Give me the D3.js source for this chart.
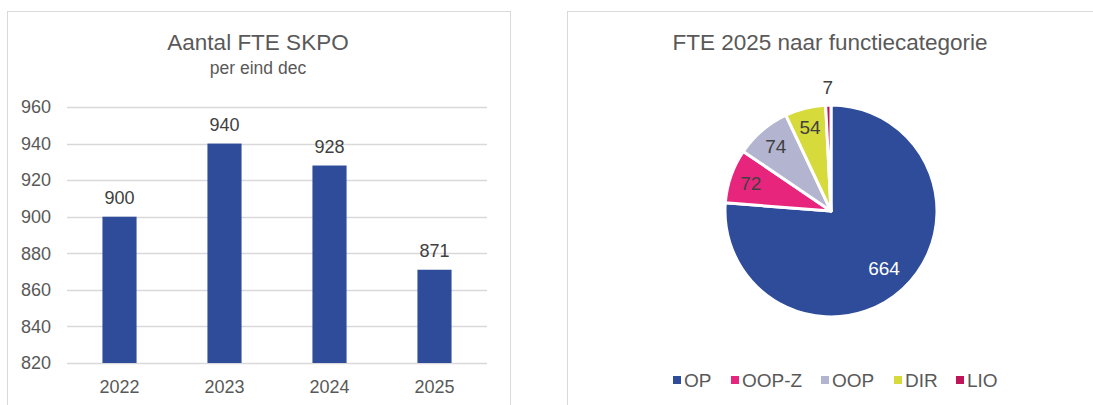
<!DOCTYPE html>
<html>
<head>
<meta charset="utf-8">
<script src="https://cdn.jsdelivr.net/npm/d3@7"></script>
<style>
  body { margin: 0; background: #fff; }
  svg { display: block; font-family: "Liberation Sans", Arial, sans-serif; }
</style>
</head>
<body>
<svg id="chart" width="1093" height="405"></svg>
<script>
// bar chart data
const years = ['2022', '2023', '2024', '2025'];
const fteTotals = [900, 940, 928, 871];
const yTicks = [820, 840, 860, 880, 900, 920, 940, 960];

// pie chart data
const categories = ['OP', 'OOP-Z', 'OOP', 'DIR', 'LIO'];
const fte2025 = [664, 72, 74, 54, 7];
const catColors = ['#2E4C9A', '#E8257C', '#B2B4D0', '#D6DA3A', '#C01459'];

const svg = d3.select('#chart');
const textGrey = '#595959';
const font = '"Liberation Sans", Arial, sans-serif';

// panel frames
svg.append('rect').attr('x', 7.5).attr('y', 11.5).attr('width', 503).attr('height', 420)
  .attr('fill', 'none').attr('stroke', '#d9d9d9');
svg.append('rect').attr('x', 567.5).attr('y', 11.5).attr('width', 560).attr('height', 420)
  .attr('fill', 'none').attr('stroke', '#d9d9d9');

// ---- left: bar chart
const left = svg.append('g');
left.append('text').attr('x', 258).attr('y', 50).attr('text-anchor', 'middle')
  .attr('font-size', 22.5).attr('fill', textGrey).text('Aantal FTE SKPO');
left.append('text').attr('x', 258).attr('y', 74).attr('text-anchor', 'middle')
  .attr('font-size', 17.5).attr('fill', textGrey).text('per eind dec');

const x = d3.scaleBand().domain(years).range([67, 487]).paddingInner(0.675).paddingOuter(0.3375);
const y = d3.scaleLinear().domain([820, 960]).range([363, 107]);

left.append('g').selectAll('line').data(yTicks).enter().append('line')
  .attr('x1', 67).attr('x2', 487)
  .attr('y1', d => Math.round(y(d)) + 0.5).attr('y2', d => Math.round(y(d)) + 0.5)
  .attr('stroke', '#d9d9d9').attr('stroke-width', 1.5);

const yAxis = left.append('g').attr('transform', 'translate(57,0)')
  .call(d3.axisLeft(y).tickValues(yTicks).tickSize(0).tickPadding(6));
yAxis.select('.domain').remove();
yAxis.selectAll('text').attr('font-size', 18).attr('fill', textGrey).attr('font-family', font);

left.selectAll('rect.bar').data(fteTotals).enter().append('rect')
  .attr('class', 'bar')
  .attr('x', (d, i) => x(years[i]))
  .attr('y', d => y(d))
  .attr('width', x.bandwidth())
  .attr('height', d => y(820) - y(d))
  .attr('fill', '#2E4C9A');

left.selectAll('text.val').data(fteTotals).enter().append('text')
  .attr('class', 'val')
  .attr('x', (d, i) => x(years[i]) + x.bandwidth() / 2)
  .attr('y', d => y(d) - 13)
  .attr('text-anchor', 'middle').attr('font-size', 18).attr('fill', '#404040')
  .text(d => d);

const xAxis = left.append('g').attr('transform', 'translate(0,363)')
  .call(d3.axisBottom(x).tickSize(0).tickPadding(17));
xAxis.select('.domain').remove();
xAxis.selectAll('text').attr('font-size', 18).attr('fill', textGrey).attr('font-family', font);

// ---- right: pie chart
const right = svg.append('g');
right.append('text').attr('x', 830).attr('y', 50).attr('text-anchor', 'middle')
  .attr('font-size', 22.5).attr('fill', textGrey).text('FTE 2025 naar functiecategorie');

const cx = 831, cy = 211, r = 106;
const pieData = d3.pie().sort(null)(fte2025);
const arc = d3.arc().innerRadius(0).outerRadius(r);
const pg = right.append('g').attr('transform', `translate(${cx},${cy})`);

pg.selectAll('path').data(pieData).enter().append('path')
  .attr('d', arc)
  .attr('fill', (d, i) => catColors[i])
  .attr('stroke', '#fff').attr('stroke-width', 3).attr('stroke-linejoin', 'round');

const labelRadius = [78, 85, 85, 86, 124];
pg.selectAll('text').data(pieData).enter().append('text')
  .attr('transform', (d, i) => {
    const c = d3.arc().innerRadius(labelRadius[i]).outerRadius(labelRadius[i]).centroid(d);
    return `translate(${c[0]},${c[1]})`;
  })
  .attr('text-anchor', 'middle').attr('dy', '0.35em')
  .attr('font-size', 19)
  .attr('fill', (d, i) => i === 0 ? '#fff' : '#404040')
  .text(d => d.data);

// legend
const legendX = [673, 731, 821, 894, 956];
const lg = right.append('g').selectAll('g').data(categories).enter().append('g')
  .attr('transform', (d, i) => `translate(${legendX[i]},380)`);
lg.append('rect').attr('x', 0).attr('y', -4).attr('width', 8).attr('height', 8)
  .attr('fill', (d, i) => catColors[i]);
lg.append('text').attr('x', 11).attr('y', 0).attr('dy', '0.35em')
  .attr('font-size', 19).attr('fill', textGrey).text(d => d);
</script>
</body>
</html>
